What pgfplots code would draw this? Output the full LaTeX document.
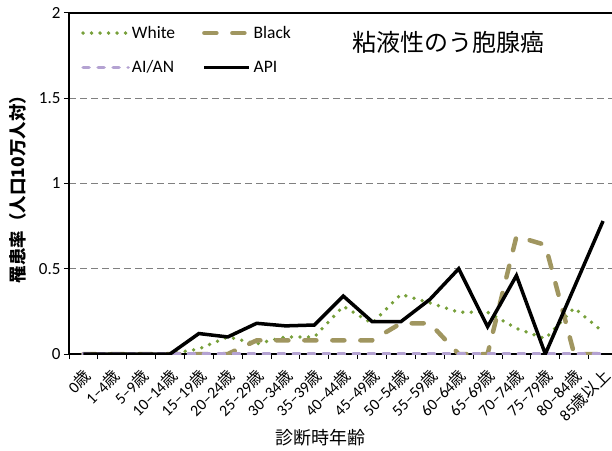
\documentclass[border=0pt]{standalone}
\usepackage{fontspec}
\setmainfont{Carlito}
\newfontfamily\jp{Noto Sans CJK JP}
\usepackage{pgfplots}
\pgfplotsset{compat=1.18}
\usepackage{pgfplotstable}
\usetikzlibrary{calc}

\definecolor{cwhite}{RGB}{119,160,58}
\definecolor{cblack}{RGB}{160,150,96}
\definecolor{caian}{RGB}{180,162,210}
\definecolor{cgrid}{RGB}{128,128,128}

% age group index, rates per 100k
\pgfplotstableread{
x  white black aian api
0  0     0     0    0
1  0     0     0    0
2  0     0     0    0
3  0     0     0    0
4  0.03  0     0    0.12
5  0.10  0     0    0.10
6  0.06  0.08  0    0.18
7  0.10  0.08  0    0.165
8  0.10  0.08  0    0.17
9  0.28  0.08  0    0.34
10 0.18  0.08  0    0.19
11 0.35  0.18  0    0.19
12 0.30  0.18  0    0.32
13 0.245 0     0    0.50
14 0.245 0     0    0.16
15 0.15  0.69  0    0.46
16 0.09  0.64  0    0
17 0.27  0     0    0.39
18 0.13  0     0    0.78
}\rates

\newcommand\sai{{\jp 歳}}

\begin{document}
\begin{tikzpicture}
\begin{axis}[name=ax,
  scale only axis, width=543bp, height=341bp,
  xmin=-0.5, xmax=18.31, ymin=0, ymax=2,
  axis x line*=bottom, axis y line*=left,
  axis line style={line width=1.2bp, black, -},
  xtick={0,...,18},
  xticklabels={0\sai,1–4\sai,5–9\sai,10–14\sai,15–19\sai,20–24\sai,25–29\sai,30–34\sai,35–39\sai,40–44\sai,45–49\sai,50–54\sai,55–59\sai,60–64\sai,65–69\sai,70–74\sai,75–79\sai,80–84\sai,85{\jp 歳以上}},
  minor xtick={-0.5,0.5,...,17.5},
  tick align=outside, major tick length=5bp, minor tick length=5bp,
  tick style={black, line width=1bp},
  major x tick style={draw=none},
  ytick={0,0.5,1,1.5}, extra y ticks={2},
  ymajorgrids,
  major grid style={cgrid, line width=1.2bp, dash pattern=on 7bp off 4bp},
  extra y tick style={major grid style={black, solid, line width=1.2bp}},
  /pgf/number format/assume math mode=true,
  yticklabel style={font=\fontsize{17bp}{20bp}\selectfont},
  xticklabel style={font=\fontsize{16bp}{18bp}\selectfont, yshift=-7bp, xshift=-1bp, rotate=45, anchor=north east, inner sep=1bp},
  xlabel={\jp 診断時年齢},
  xlabel style={font=\fontsize{18bp}{22bp}\selectfont, at={(rel axis cs:0.464,0)}, anchor=north, yshift=-72bp},
  no markers,
  legend columns=2, legend cell align=left,
  legend style={at={(rel axis cs:0,1)}, anchor=north west, xshift=12bp, yshift=-11bp,
    draw=none, fill=none, font=\fontsize{17.5bp}{20bp}\selectfont,
    row sep=17bp, inner sep=0pt, nodes={inner sep=2bp}},
  /tikz/every even column/.append style={column sep=25bp},
  legend image code/.code={\draw[#1] (0bp,0bp) -- (45bp,0bp);},
]
\addplot[cwhite, line width=3.8bp, line cap=round, dash pattern=on 0bp off 8.5bp] table[x=x, y=white] {\rates};
\addplot[cblack, line width=4.5bp, line cap=round, dash pattern=on 12bp off 16bp] table[x=x, y=black] {\rates};
\addplot[caian, line width=3.5bp, line cap=round, dash pattern=on 6bp off 9bp] table[x=x, y=aian] {\rates};
\addplot[black, line width=3.5bp] table[x=x, y=api] {\rates};
\legend{White, Black, AI/AN, API}
\end{axis}
\node[font=\jp\fontsize{24bp}{28bp}\selectfont] at ($(ax.north west)+(379bp,-29bp)$) {粘液性のう胞腺癌};
\node[font=\jp\bfseries\fontsize{17.5bp}{22bp}\selectfont, rotate=90] at ($(ax.south west)+(-51bp,169bp)$) {罹患率（人口10万人対）};
\pgfresetboundingbox
\path ($(ax.south west)+(-69bp,-97bp)$) rectangle ($(ax.north east)+(0bp,13bp)$);
\end{tikzpicture}
\end{document}
